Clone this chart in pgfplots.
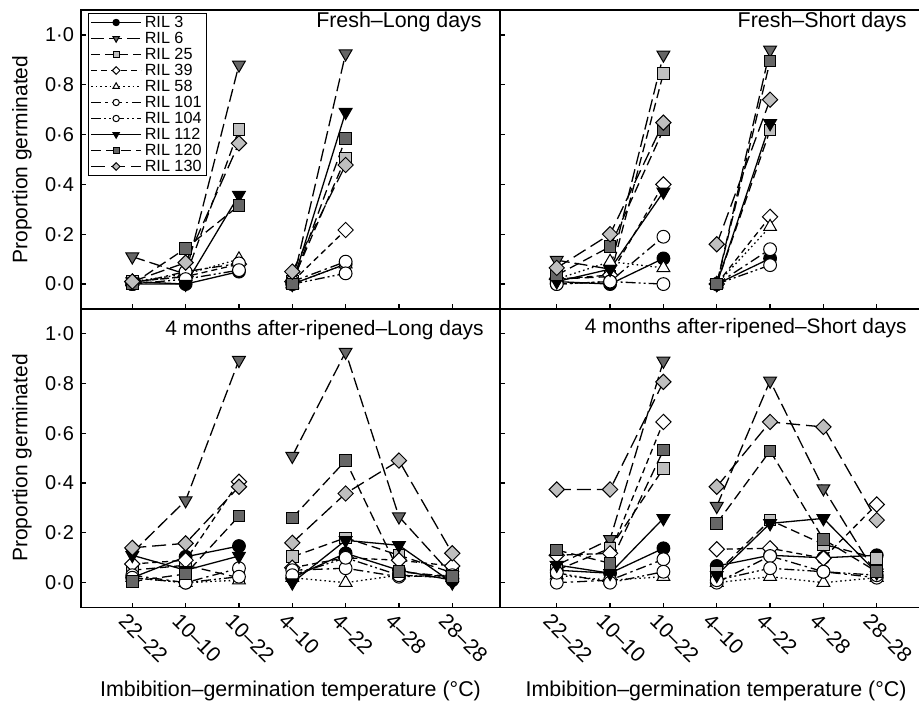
\documentclass[border=0pt]{standalone}
\usepackage{fontspec}
\setmainfont{Liberation Sans}
\usepackage{pgfplots}
\pgfplotsset{compat=1.18}
\definecolor{dg}{gray}{0.40}
\definecolor{lg}{gray}{0.75}
\pgfplotsset{
  ril3/.style={black, solid, line width=0.65pt, mark=*, mark size=3.2pt, mark options={solid, fill=black, line width=0.5pt}},
  ril6/.style={black, line width=0.65pt, dash pattern=on 6.5pt off 2.5pt, mark=triangle*, mark size=3.7pt, mark options={solid, fill=dg, rotate=180, line width=0.5pt}},
  ril25/.style={black, line width=0.65pt, dash pattern=on 4.5pt off 2.5pt, mark=square*, mark size=2.9pt, mark options={solid, fill=lg, line width=0.5pt}},
  ril39/.style={black, line width=0.65pt, dash pattern=on 3pt off 2pt, mark=square*, mark size=2.7pt, mark options={solid, fill=white, rotate=45, line width=0.5pt}},
  ril58/.style={black, line width=0.65pt, dash pattern=on 0.8pt off 1.5pt, mark=triangle*, mark size=3.7pt, mark options={solid, fill=white, line width=0.5pt}},
  ril101/.style={black, line width=0.65pt, dash pattern=on 5pt off 2pt on 1.2pt off 2pt, mark=*, mark size=3.2pt, mark options={solid, fill=white, line width=0.5pt}},
  ril104/.style={black, line width=0.65pt, dash pattern=on 5pt off 1.5pt on 1pt off 1.5pt on 1pt off 1.5pt, mark=*, mark size=3.2pt, mark options={solid, fill=white, line width=0.5pt}},
  ril112/.style={black, solid, line width=0.65pt, mark=triangle*, mark size=3.7pt, mark options={solid, fill=black, rotate=180, line width=0.5pt}},
  ril120/.style={black, line width=0.65pt, dash pattern=on 5pt off 2.5pt, mark=square*, mark size=2.9pt, mark options={solid, fill=dg, line width=0.5pt}},
  ril130/.style={black, line width=0.65pt, dash pattern=on 7pt off 3pt, mark=square*, mark size=2.7pt, mark options={solid, fill=lg, rotate=45, line width=0.5pt}},
  panel/.style={
    scale only axis, height=149.5pt,
    ymin=-0.1, ymax=1.1,
    ytick={0,0.2,0.4,0.6,0.8,1},
    xtick={0,1,2,3,4,5,6},
    tick align=inside, tick pos=left,
    major tick length=2.5pt,
    every tick/.style={black, line width=0.6pt},
    axis line style={line width=0.8pt},
    unbounded coords=jump, clip=false,
    tick label style={font=\fontsize{10}{12}\selectfont},
    yticklabels={0·0,0·2,0·4,0·6,0·8,1·0},
    xticklabel style={rotate=-45, anchor=north west, inner sep=0pt, yshift=-3pt, font=\fontsize{10.5}{12}\selectfont},
    every axis x label/.style={at={(rel axis cs:0.5,0)}, yshift=-41.5pt, anchor=center, inner sep=0pt, font=\fontsize{10.7}{12}\selectfont},
    every axis y label/.style={at={(rel axis cs:0,0.5)}, xshift=-29.5pt, rotate=90, anchor=center, inner sep=0pt, font=\fontsize{10.5}{12}\selectfont},
    every axis title/.style={at={(rel axis cs:1,1)}, anchor=east, inner sep=0pt, font=\fontsize{10.7}{12}\selectfont},
  },
  left panel/.style={panel, width=209.5pt, xmin=-0.962, xmax=6.895},
  right panel/.style={panel, width=216.1pt, xmin=-1.064, xmax=7.04, yticklabels={}},
}
\newcommand{\xlabs}{xticklabels={22–22,10–10,10–22,4–10,4–22,4–28,28–28}}
\begin{document}
\begin{tikzpicture}
\begin{scope}
\clip (0,0) rectangle (459.5pt,350.5pt);
% ---------------- Top left
\begin{axis}[left panel, at={(40.5pt,196pt)}, anchor=south west, xticklabels={},
  title={Fresh–Long days}, title style={xshift=-9pt, yshift=-6pt},
  ylabel={Proportion germinated},
  legend style={at={(rel axis cs:0,1)}, anchor=north west, xshift=3.5pt, yshift=-1.5pt,
    font=\fontsize{8.1}{8}\selectfont, draw=black, line width=0.5pt, inner xsep=1pt, inner ysep=0.5pt,
    nodes={text height=5.6pt, text depth=0.4pt, inner ysep=1pt, inner xsep=1.5pt},
    cells={anchor=west}, row sep=0pt},
  legend image code/.code={\draw[mark repeat=2, mark phase=2, #1, every mark/.append style={scale=0.5}] plot coordinates {(0pt,0pt) (12.5pt,0pt) (25pt,0pt)};}]
\addplot[ril3] coordinates {(0,0)(1,0)(2,0.05)(2.5,nan)(3,0)(4,0.08)};
\addplot[ril6] coordinates {(0,0.11)(1,0.04)(2,0.88)(2.5,nan)(3,0)(4,0.925)};
\addplot[ril25] coordinates {(0,0.01)(1,0.03)(2,0.62)(2.5,nan)(3,0.01)(4,0.505)};
\addplot[ril39] coordinates {(0,0.01)(1,0.03)(2,0.08)(2.5,nan)(3,0.01)(4,0.217)};
\addplot[ril58] coordinates {(0,0.01)(1,0.04)(2,0.10)(2.5,nan)(3,0)(4,0.08)};
\addplot[ril101] coordinates {(0,0)(1,0.05)(2,0.083)(2.5,nan)(3,0.01)(4,0.09)};
\addplot[ril104] coordinates {(0,0)(1,0.02)(2,0.056)(2.5,nan)(3,0)(4,0.043)};
\addplot[ril112] coordinates {(0,0.01)(1,0)(2,0.357)(2.5,nan)(3,0)(4,0.69)};
\addplot[ril120] coordinates {(0,0)(1,0.143)(2,0.315)(2.5,nan)(3,0)(4,0.585)};
\addplot[ril130] coordinates {(0,0.01)(1,0.086)(2,0.565)(2.5,nan)(3,0.05)(4,0.478)};
\legend{RIL 3,RIL 6,RIL 25,RIL 39,RIL 58,RIL 101,RIL 104,RIL 112,RIL 120,RIL 130}
\end{axis}
% ---------------- Top right
\begin{axis}[right panel, at={(250pt,196pt)}, anchor=south west, xticklabels={},
  title={Fresh–Short days}, title style={xshift=-12.6pt, yshift=-6pt}]
\addplot[ril3] coordinates {(0,0.01)(1,0)(2,0.103)(2.5,nan)(3,0)(4,0.103)};
\addplot[ril6] coordinates {(0,0.096)(1,0.06)(2,0.92)(2.5,nan)(3,0)(4,0.94)};
\addplot[ril25] coordinates {(0,0.02)(1,0.03)(2,0.846)(2.5,nan)(3,0)(4,0.618)};
\addplot[ril39] coordinates {(0,0.02)(1,0.036)(2,0.40)(2.5,nan)(3,0)(4,0.27)};
\addplot[ril58] coordinates {(0,0.02)(1,0.09)(2,0.065)(2.5,nan)(3,0)(4,0.23)};
\addplot[ril101] coordinates {(0,0)(1,0.01)(2,0.19)(2.5,nan)(3,0)(4,0.14)};
\addplot[ril104] coordinates {(0,0)(1,0.01)(2,0)(2.5,nan)(3,0)(4,0.076)};
\addplot[ril112] coordinates {(0,0.01)(1,0.06)(2,0.37)(2.5,nan)(3,0)(4,0.645)};
\addplot[ril120] coordinates {(0,0.036)(1,0.15)(2,0.62)(2.5,nan)(3,0)(4,0.895)};
\addplot[ril130] coordinates {(0,0.065)(1,0.2)(2,0.648)(2.5,nan)(3,0.16)(4,0.74)};
\end{axis}
% ---------------- Bottom left
\begin{axis}[left panel, at={(40.5pt,46.7pt)}, anchor=south west, \xlabs,
  title={4 months after-ripened–Long days}, title style={xshift=-8pt, yshift=-10.9pt, font=\fontsize{10.45}{12}\selectfont},
  ylabel={Proportion germinated},
  xlabel={Imbibition–germination temperature (°C)}]
\addplot[ril3] coordinates {(0,0.02)(1,0.104)(2,0.147)(2.5,nan)(3,0.02)(4,0.118)(5,0.05)(6,0.01)};
\addplot[ril6] coordinates {(0,0.12)(1,0.33)(2,0.893)(2.5,nan)(3,0.508)(4,0.926)(5,0.265)(6,0.03)};
\addplot[ril25] coordinates {(0,0.05)(1,0.07)(2,0.02)(2.5,nan)(3,0.104)(4,0.18)(5,0.11)(6,0.04)};
\addplot[ril39] coordinates {(0,0.075)(1,0.09)(2,0.405)(2.5,nan)(3,0.06)(4,0.10)(5,0.09)(6,0.067)};
\addplot[ril58] coordinates {(0,0.02)(1,0)(2,0.01)(2.5,nan)(3,0.02)(4,0)(5,0.03)(6,0.02)};
\addplot[ril101] coordinates {(0,0.03)(1,0)(2,0.058)(2.5,nan)(3,0.05)(4,0.058)(5,0.024)(6,0.03)};
\addplot[ril104] coordinates {(0,0.02)(1,0)(2,0.024)(2.5,nan)(3,0.03)(4,0.10)(5,0.03)(6,0.02)};
\addplot[ril112] coordinates {(0,0.11)(1,0.05)(2,0.107)(2.5,nan)(3,0)(4,0.17)(5,0.15)(6,0)};
\addplot[ril120] coordinates {(0,0.005)(1,0.035)(2,0.267)(2.5,nan)(3,0.26)(4,0.49)(5,0.044)(6,0.024)};
\addplot[ril130] coordinates {(0,0.14)(1,0.158)(2,0.385)(2.5,nan)(3,0.16)(4,0.358)(5,0.49)(6,0.118)};
\end{axis}
% ---------------- Bottom right
\begin{axis}[right panel, at={(250pt,46.7pt)}, anchor=south west, \xlabs,
  title={4 months after-ripened–Short days}, title style={xshift=-12.6pt, yshift=-9.9pt, font=\fontsize{10.45}{12}\selectfont},
  xlabel={Imbibition–germination temperature (°C)}]
\addplot[ril3] coordinates {(0,0.05)(1,0.038)(2,0.138)(2.5,nan)(3,0.067)(4,0.11)(5,0.10)(6,0.11)};
\addplot[ril6] coordinates {(0,0.07)(1,0.174)(2,0.89)(2.5,nan)(3,0.307)(4,0.81)(5,0.378)(6,0.03)};
\addplot[ril25] coordinates {(0,0.05)(1,0.138)(2,0.458)(2.5,nan)(3,0.04)(4,0.251)(5,0.154)(6,0.098)};
\addplot[ril39] coordinates {(0,0.11)(1,0.118)(2,0.645)(2.5,nan)(3,0.134)(4,0.138)(5,0.098)(6,0.314)};
\addplot[ril58] coordinates {(0,0.03)(1,0.01)(2,0.024)(2.5,nan)(3,0)(4,0.024)(5,0)(6,0.02)};
\addplot[ril101] coordinates {(0,0)(1,0.01)(2,0.094)(2.5,nan)(3,0)(4,0.107)(5,0.044)(6,0.02)};
\addplot[ril104] coordinates {(0,0.04)(1,0)(2,0.044)(2.5,nan)(3,0.01)(4,0.058)(5,0.044)(6,0.03)};
\addplot[ril112] coordinates {(0,0.071)(1,0.038)(2,0.258)(2.5,nan)(3,0.03)(4,0.238)(5,0.258)(6,0.04)};
\addplot[ril120] coordinates {(0,0.131)(1,0.078)(2,0.532)(2.5,nan)(3,0.238)(4,0.529)(5,0.174)(6,0.044)};
\addplot[ril130] coordinates {(0,0.374)(1,0.374)(2,0.806)(2.5,nan)(3,0.385)(4,0.645)(5,0.625)(6,0.251)};
\end{axis}
\end{scope}
\pgfresetboundingbox
\useasboundingbox (0,0) rectangle (459.5pt,350.5pt);
\end{tikzpicture}
\end{document}
